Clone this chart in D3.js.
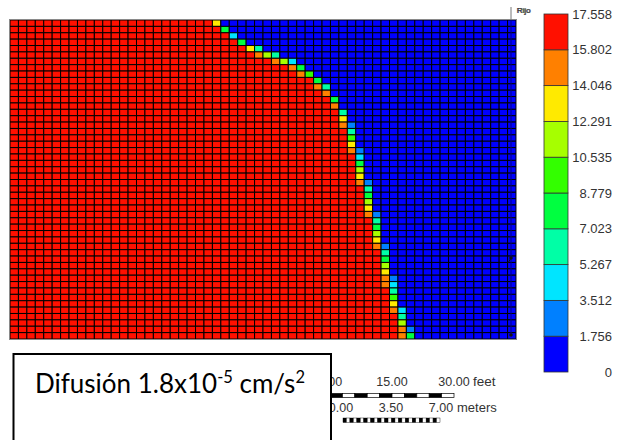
<!DOCTYPE html>
<html>
<head>
<meta charset="utf-8">
<script src="https://d3js.org/d3.v7.min.js"></script>
<style>
  html, body { margin: 0; padding: 0; background: #fff; overflow: hidden; }
  svg { display: block; }
  .lbl { font-family: "Liberation Sans", Arial, sans-serif; fill: #333; }
  .legend text { font-family: "Liberation Sans", Arial, sans-serif; font-size: 13px; fill: #333; }
</style>
</head>
<body>
<script>
const width = 617;
const height = 440;

// legend levels, bottom to top
const levels = [0, 1.756, 3.512, 5.267, 7.023, 8.779, 10.535, 12.291, 14.046, 15.802, 17.558];
const bandColors = ["#0000ff", "#0080ff", "#00e5ff", "#00ffa6", "#00ff40", "#33ff00", "#a6ff00", "#ffea00", "#ff8000", "#ff1000"];

const nCols = 60;
const nRows = 50;
const highValue = 17.558;
const lowValue = 0;

// first column of the front in each row, and the values read across it
const frontCol = [24, 25, 26, 27, 28, 29, 31, 33, 34, 36, 36, 37, 38, 38, 39, 39, 39, 40, 40, 40, 40, 41, 41, 41, 41,
  41, 42, 42, 42, 42, 42, 43, 43, 43, 43, 43, 44, 44, 44, 44, 44, 44, 45, 45, 45, 45, 46, 46, 46, 46];
const frontValues = [
  [13.2], [7.9], [4.4], [7.9], [13.2, 6.1], [14.9, 11.4, 6.1], [14.9, 11.4, 4.4], [14.9, 7.9], [14.9, 9.7], [7.9],
  [14.9, 6.1], [14.9], [7.9], [14.9], [6.1], [13.2], [14.9, 2.6], [6.1], [9.7], [13.2],
  [14.9, 2.6], [4.4], [7.9], [11.4], [13.2], [14.9, 2.6], [6.1], [7.9], [11.4], [13.2],
  [14.9, 2.6], [6.1], [7.9], [11.4], [13.2], [14.9, 2.6], [6.1], [7.9], [11.4], [13.2],
  [14.9, 2.6], [14.9, 4.4], [6.1], [9.7], [13.2], [14.9, 4.4], [6.1], [11.4], [14.9, 2.6], [14.9, 7.9]
];

const feetTicks = [0, 15, 30];
const meterTicks = [0, 3.5, 7];

const svg = d3.select("body").append("svg")
    .attr("width", width)
    .attr("height", height);

// build the cells from the front
const cells = [];
d3.range(nRows).forEach(r => {
  d3.range(nCols).forEach(c => {
    let v = c < frontCol[r] ? highValue : lowValue;
    const k = c - frontCol[r];
    if (k >= 0 && k < frontValues[r].length) v = frontValues[r][k];
    cells.push({ r, c, v });
  });
});

const x = d3.scaleBand().domain(d3.range(nCols)).range([10, 516]);
const y = d3.scaleBand().domain(d3.range(nRows)).range([20, 339]);
const color = d3.scaleThreshold().domain(levels.slice(1, -1)).range(bandColors);

// grid
svg.append("g").selectAll("rect")
    .data(cells)
  .enter().append("rect")
    .attr("x", d => x(d.c))
    .attr("y", d => y(d.r))
    .attr("width", x.bandwidth())
    .attr("height", y.bandwidth())
    .attr("fill", d => color(d.v))
    .attr("stroke", "#000")
    .attr("stroke-width", 1);

svg.append("rect")
    .attr("x", 9.5)
    .attr("y", 19.5)
    .attr("width", 507)
    .attr("height", 320)
    .attr("fill", "none")
    .attr("stroke", "#8a8a8a")
    .attr("stroke-width", 1);

// well marks on the right of the grid
svg.append("line")
    .attr("x1", 511).attr("x2", 511)
    .attr("y1", 7).attr("y2", 20)
    .attr("stroke", "#777");
svg.append("line")
    .attr("x1", 511).attr("x2", 511)
    .attr("y1", 20).attr("y2", 335)
    .attr("stroke", "#00008a");
svg.selectAll(".well")
    .data([258, 335])
  .enter().append("circle")
    .attr("class", "well")
    .attr("cx", 511)
    .attr("cy", d => d)
    .attr("r", 1.8)
    .attr("fill", "#111");
svg.append("line")
    .attr("x1", 508).attr("x2", 511)
    .attr("y1", 263).attr("y2", 258)
    .attr("stroke", "#111");

svg.selectAll(".wellname")
    .data([516.5, 517.2])
  .enter().append("text")
    .attr("class", "lbl wellname")
    .attr("x", d => d)
    .attr("y", 13)
    .attr("font-size", 8)
    .text("Rijo");

// legend
const legendY = d3.scaleLinear().domain([0, 17.558]).range([372, 14]);
const legend = svg.append("g").attr("class", "legend");

legend.selectAll("rect")
    .data(bandColors)
  .enter().append("rect")
    .attr("x", 544)
    .attr("y", (d, i) => legendY(levels[i + 1]))
    .attr("width", 24)
    .attr("height", (d, i) => legendY(levels[i]) - legendY(levels[i + 1]))
    .attr("fill", d => d)
    .attr("stroke", "#333")
    .attr("stroke-width", 0.8);

const legendAxis = d3.axisRight(legendY)
    .tickValues(levels)
    .tickSize(0)
    .tickPadding(0)
    .tickFormat(d => d === 0 ? "0" : d3.format(".3f")(d));

legend.append("g")
    .attr("transform", "translate(612,0)")
    .call(legendAxis)
    .call(g => g.select(".domain").remove())
    .selectAll("text")
    .attr("text-anchor", "end")
    .attr("x", 0);

// scale bars
const feetX = d3.scaleLinear().domain([0, 30]).range([330, 454]);
const meterX = d3.scaleLinear().domain([0, 7]).range([343, 440]);
const meterLabelX = d3.scaleLinear().domain([0, 7]).range([341, 441]);

svg.selectAll(".feetseg")
    .data(d3.range(0, 30, 3))
  .enter().append("rect")
    .attr("class", "feetseg")
    .attr("x", d => feetX(d))
    .attr("y", 393.5)
    .attr("width", feetX(3) - feetX(0))
    .attr("height", 4)
    .attr("fill", (d, i) => i % 2 ? "#fff" : "#000")
    .attr("stroke", "#000")
    .attr("stroke-width", 0.7);

svg.selectAll(".meterseg")
    .data(d3.range(0, 7, 0.25))
  .enter().append("rect")
    .attr("class", "meterseg")
    .attr("x", d => meterX(d))
    .attr("y", 418)
    .attr("width", meterX(0.25) - meterX(0))
    .attr("height", 4.5)
    .attr("fill", (d, i) => i % 2 ? "#fff" : "#000")
    .attr("stroke", "#000")
    .attr("stroke-width", 0.4);

svg.selectAll(".feetlabel")
    .data(feetTicks)
  .enter().append("text")
    .attr("class", "lbl feetlabel")
    .attr("x", d => feetX(d))
    .attr("y", 386)
    .attr("font-size", 12.5)
    .attr("text-anchor", "middle")
    .text(d => d3.format(".2f")(d));
svg.append("text")
    .attr("class", "lbl")
    .attr("x", 473)
    .attr("y", 386)
    .attr("font-size", 13.5)
    .text("feet");

svg.selectAll(".meterlabel")
    .data(meterTicks)
  .enter().append("text")
    .attr("class", "lbl meterlabel")
    .attr("x", d => meterLabelX(d))
    .attr("y", 412)
    .attr("font-size", 12.5)
    .attr("text-anchor", "middle")
    .text(d => d3.format(".2f")(d));
svg.append("text")
    .attr("class", "lbl")
    .attr("x", 457)
    .attr("y", 412)
    .attr("font-size", 13)
    .text("meters");

// text box over the left of the scale bars
svg.append("rect")
    .attr("x", 13.5)
    .attr("y", 354)
    .attr("width", 317.5)
    .attr("height", 100)
    .attr("fill", "#fff")
    .attr("stroke", "#000")
    .attr("stroke-width", 2);

const title = svg.append("text")
    .attr("x", 35)
    .attr("y", 393)
    .attr("font-family", "Lato, sans-serif")
    .attr("font-size", 26)
    .attr("fill", "#000");
title.append("tspan").text("Difusión 1.8x10");
title.append("tspan").attr("dy", -10).attr("font-size", 16.5).text("-5");
title.append("tspan").attr("dy", 10).text(" cm/s");
title.append("tspan").attr("dy", -10).attr("font-size", 16.5).text("2");
</script>
</body>
</html>
